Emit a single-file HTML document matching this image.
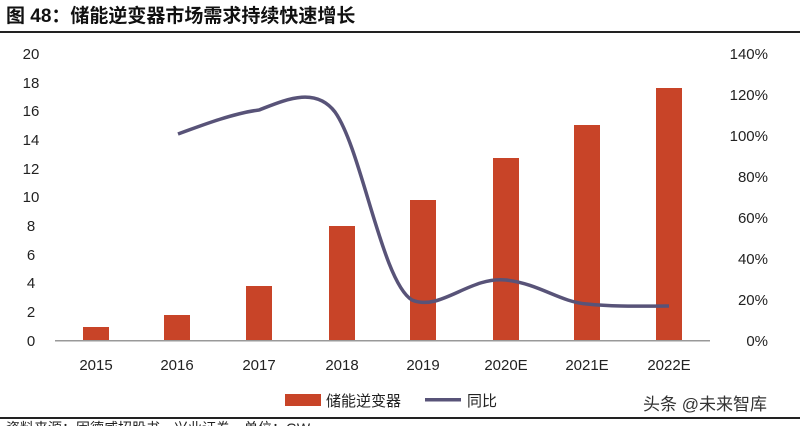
<!DOCTYPE html>
<html><head><meta charset="utf-8"><style>
body{margin:0;background:#fff;width:800px;height:426px;overflow:hidden;font-family:"Liberation Sans","Noto Sans CJK SC",sans-serif;}
</style></head><body>
<svg width="800" height="426" xmlns="http://www.w3.org/2000/svg" style="position:absolute;left:0;top:0">
<text x="6" y="22" font-size="19" font-weight="bold" fill="#111" font-family="Liberation Sans,Noto Sans CJK SC,sans-serif">图 48：储能逆变器市场需求持续快速增长</text>
<rect x="0" y="31" width="800" height="2" fill="#222"/>
<g font-size="15" fill="#222" text-anchor="middle">
<text x="31" y="59">20</text><text x="31" y="88">18</text><text x="31" y="116">16</text><text x="31" y="145">14</text><text x="31" y="174">12</text><text x="31" y="202">10</text><text x="31" y="231">8</text><text x="31" y="260">6</text><text x="31" y="288">4</text><text x="31" y="317">2</text><text x="31" y="346">0</text>
</g>
<g font-size="15" fill="#222" text-anchor="end">
<text x="768" y="59">140%</text><text x="768" y="100">120%</text><text x="768" y="141">100%</text><text x="768" y="182">80%</text><text x="768" y="223">60%</text><text x="768" y="264">40%</text><text x="768" y="305">20%</text><text x="768" y="346">0%</text>
</g>
<g fill="#c84428">
<rect x="83" y="327" width="26" height="14"/>
<rect x="164" y="315" width="26" height="26"/>
<rect x="246" y="286" width="26" height="55"/>
<rect x="329" y="226" width="26" height="115"/>
<rect x="410" y="200" width="26" height="141"/>
<rect x="493" y="158" width="26" height="183"/>
<rect x="574" y="125" width="26" height="216"/>
<rect x="656" y="88" width="26" height="253"/>
</g>
<rect x="55" y="340" width="655" height="1.5" fill="#999"/>
<path d="M178,134 C205,124 235,113 259,110 C285,100 315,86 335,112 C362,150 382,282 412,300 C440,312 470,276 506,280 C540,284 560,302 587,304 C615,307 645,306 669,306" fill="none" stroke="#585378" stroke-width="3.5"/>
<g font-size="15" fill="#222" text-anchor="middle">
<text x="96" y="370">2015</text><text x="177" y="370">2016</text><text x="259" y="370">2017</text><text x="342" y="370">2018</text><text x="423" y="370">2019</text><text x="506" y="370">2020E</text><text x="587" y="370">2021E</text><text x="669" y="370">2022E</text>
</g>
<rect x="285" y="394" width="36" height="12" fill="#c84428"/>
<text x="326" y="406" font-size="15" fill="#222">储能逆变器</text>
<rect x="425" y="398" width="36" height="3.5" fill="#585378"/>
<text x="467" y="406" font-size="15" fill="#222">同比</text>
<text x="643" y="410" font-size="17" fill="#333">头条 @未来智库</text>
<rect x="0" y="417" width="800" height="2" fill="#222"/>
<text x="6" y="433" font-size="14" fill="#222">资料来源：固德威招股书，兴业证券，单位：GW</text>
</svg>
</body></html>
